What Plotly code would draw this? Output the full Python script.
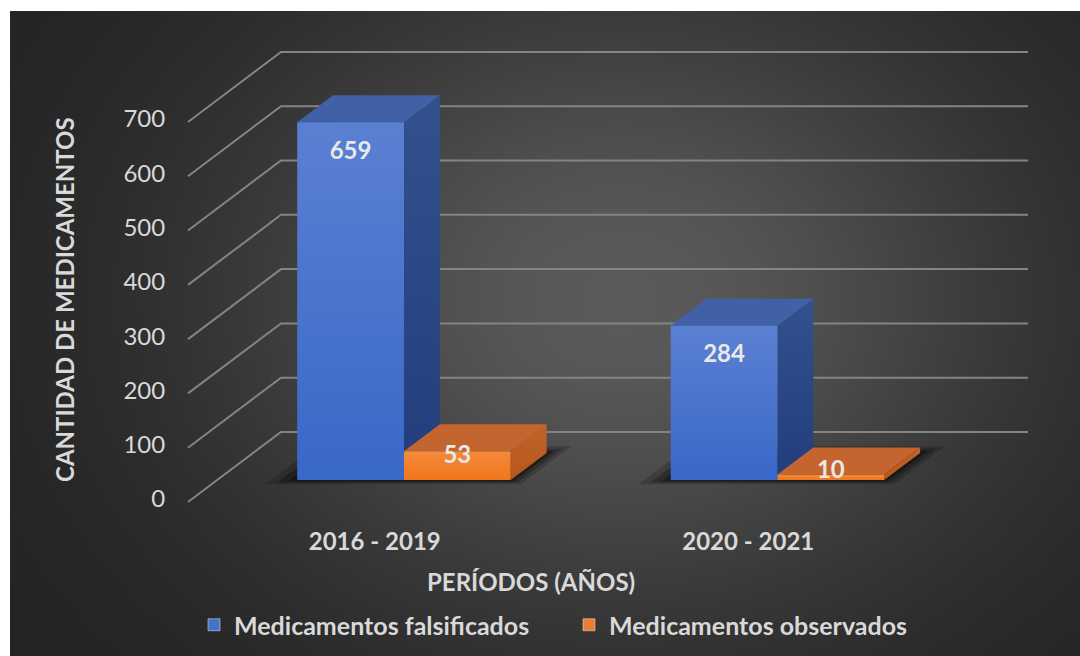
import numpy as np
import plotly.graph_objects as go

# ---------------- data ----------------
categories = ["2016 - 2019", "2020 - 2021"]
falsificados = [659, 284]
observados = [53, 10]
series_names = ["Medicamentos falsificados", "Medicamentos observados"]
y_ticks = [0, 100, 200, 300, 400, 500, 600, 700]

# ---------------- geometry / style ----------------
W, H = 1080, 656
PX0, PY0 = 10, 11                    # dark panel left / top (px)
AL, AR, AT, AB = 178, 1040, 42, 512  # plot area (px)
FRONT_LEFT_PX, ZERO_PX = 188, 502
PX_PER_X, PX_PER_Y = 373.5, 0.5429
DX, DY = 0.249, 129.0                # oblique depth offset (data units)
F0, FD = 0.314, 0.386                # bar front depth, bar depth (fractions)
F1 = F0 + FD
BW = 0.2858                          # bar width (x units)

x_lo = -0.5 - (FRONT_LEFT_PX - AL) / PX_PER_X
x_hi = x_lo + (AR - AL) / PX_PER_X
y_lo = 0 - (AB - ZERO_PX) / PX_PER_Y
y_hi = y_lo + (AB - AT) / PX_PER_Y

panel_w, panel_h = W - PX0, H - PY0
def fx(px):
    return (px - PX0) / panel_w
def fy(py):
    return (H - py) / panel_h

FONT = "Lato"
TXT = "#d9d9d9"

def proj(x, v, d):
    return x + d * DX, v + d * DY

def poly(pts):
    xs, ys = [], []
    for (x, v, d) in pts:
        a, b = proj(x, v, d)
        xs.append(a)
        ys.append(b)
    xs.append(xs[0])
    ys.append(ys[0])
    return xs, ys

fig = go.Figure()

# ---------- background radial gradient (panel) ----------
gx = np.linspace(PX0, W, 60)
gy = np.linspace(PY0, H, 40)
GX, GY = np.meshgrid(gx, gy)
cx, cy, rx, ry = 620, 300, 400, 317
Z = np.exp(-((GX - cx) / rx) ** 2 - ((GY - cy) / ry) ** 2)
fig.add_trace(go.Heatmap(x=gx, y=gy, z=Z, zmin=0, zmax=1, zsmooth="best",
                         colorscale=[[0, "#222222"], [1, "#5a5a5a"]],
                         showscale=False, hoverinfo="skip",
                         xaxis="x", yaxis="y"))

AX2 = dict(xaxis="x2", yaxis="y2")

# ---------- gridlines (left wall diagonal + back wall) ----------
gxs, gys = [], []
for v in y_ticks:
    for (x, d) in [(-0.5, 0), (-0.5, 1), (1.5, 1)]:
        a, b = proj(x, v, d)
        gxs.append(a)
        gys.append(b)
    gxs.append(None)
    gys.append(None)
fig.add_trace(go.Scatter(x=gxs, y=gys, mode="lines",
                         line=dict(color="#848484", width=2),
                         hoverinfo="skip", showlegend=False, **AX2))

# ---------- shadows on the floor ----------
for c in range(len(categories)):
    for (ex, ed, op) in [(0.07, 0.10, 0.18), (0.045, 0.06, 0.25), (0.02, 0.03, 0.35)]:
        xs, ys = poly([(c - BW - ex, 0, F0 - ed * 0.6), (c + BW + ex * 0.6, 0, F0 - ed * 0.6),
                       (c + BW + ex * 0.6, 0, F1 + ed), (c - BW - ex, 0, F1 + ed)])
        fig.add_trace(go.Scatter(x=xs, y=ys, mode="lines", fill="toself",
                                 fillcolor="rgba(0,0,0,%.2f)" % op,
                                 line=dict(width=0), hoverinfo="skip",
                                 showlegend=False, **AX2))

# ---------- 3D bars ----------
styles = [
    dict(front=("#3a68c8", "#5a80d2"), top="#4060a8", side=("#213d7c", "#33508f"), legend="#4472c4"),
    dict(front=("#f0761c", "#f58a3c"), top="#c4652f", side=("#b8561a", "#c0642c"), legend="#ed7d31"),
]
series = [falsificados, observados]
offsets = [(-BW, 0.0), (0.0, BW)]

label_x, label_y, label_t = [], [], []
for c in range(len(categories)):
    for si in range(len(series)):
        h = series[si][c]
        st = styles[si]
        x0, x1 = c + offsets[si][0], c + offsets[si][1]
        # side face
        xs, ys = poly([(x1, 0, F0), (x1, 0, F1), (x1, h, F1), (x1, h, F0)])
        fig.add_trace(go.Scatter(x=xs, y=ys, mode="lines", fill="toself",
                                 fillgradient=dict(type="vertical",
                                                   colorscale=[[0, st["side"][0]], [1, st["side"][1]]]),
                                 line=dict(width=0), hoverinfo="skip", showlegend=False, **AX2))
        # top face
        xs, ys = poly([(x0, h, F0), (x1, h, F0), (x1, h, F1), (x0, h, F1)])
        fig.add_trace(go.Scatter(x=xs, y=ys, mode="lines", fill="toself",
                                 fillcolor=st["top"], line=dict(width=0),
                                 hoverinfo="skip", showlegend=False, **AX2))
        # front face
        xs, ys = poly([(x0, 0, F0), (x1, 0, F0), (x1, h, F0), (x0, h, F0)])
        fig.add_trace(go.Scatter(x=xs, y=ys, mode="lines", fill="toself",
                                 fillgradient=dict(type="vertical",
                                                   colorscale=[[0, st["front"][0]], [1, st["front"][1]]]),
                                 line=dict(width=0), hoverinfo="skip", showlegend=False, **AX2))
        # label position
        lv = (h - 46 if h - 46 > 46 else max(h, 24)) - 10
        a, b = proj((x0 + x1) / 2, lv, F0)
        label_x.append(a)
        label_y.append(b)
        label_t.append("<b>%d</b>" % h)

fig.add_trace(go.Scatter(x=label_x, y=label_y, mode="text", text=label_t,
                         textposition="middle center",
                         textfont=dict(family=FONT, size=24, color="#e8e8e8"),
                         hoverinfo="skip", showlegend=False, **AX2))

# ---------- legend entries ----------
for si in range(len(series)):
    fig.add_trace(go.Bar(x=[None], y=[None], name=series_names[si],
                         marker=dict(color=styles[si]["legend"]), **AX2))

# ---------- layout ----------
fig.update_layout(
    width=W, height=H,
    margin=dict(l=PX0, r=0, t=PY0, b=0, pad=0),
    paper_bgcolor="white",
    plot_bgcolor="rgba(0,0,0,0)",
    showlegend=True,
    legend=dict(orientation="h", x=fx(569), y=fy(625), xanchor="center", yanchor="middle",
                font=dict(family=FONT, size=25, color=TXT, weight="bold"),
                bgcolor="rgba(0,0,0,0)", entrywidth=330, entrywidthmode="pixels"),
    xaxis=dict(domain=[0, 1], range=[PX0, W], visible=False, fixedrange=True),
    yaxis=dict(domain=[0, 1], range=[H, PY0], visible=False, fixedrange=True),
    xaxis2=dict(domain=[fx(AL), fx(AR)], range=[x_lo, x_hi], anchor="y2",
                tickvals=list(range(len(categories))), ticktext=categories,
                tickfont=dict(family=FONT, size=24, color=TXT, weight="bold"),
                ticks="outside", ticklen=8, tickcolor="rgba(0,0,0,0)",
                showgrid=False, zeroline=False, showline=False, fixedrange=True),
    yaxis2=dict(domain=[fy(AB), fy(AT)], range=[y_lo, y_hi], anchor="x2",
                tickvals=y_ticks, ticktext=[str(v) for v in y_ticks],
                tickfont=dict(family=FONT, size=24, color=TXT),
                ticks="outside", ticklen=7, tickcolor="rgba(0,0,0,0)",
                ticklabelshift=-3,
                showgrid=False, zeroline=False, showline=False, fixedrange=True),
    annotations=[
        dict(text="<b>PERÍODOS (AÑOS)</b>", x=fx(531), y=fy(581), xref="paper", yref="paper",
             showarrow=False, xanchor="center", yanchor="middle",
             font=dict(family=FONT, size=24, color=TXT)),
        dict(text="<b>CANTIDAD DE MEDICAMENTOS</b>", x=fx(65), y=fy(300), xref="paper", yref="paper",
             showarrow=False, xanchor="center", yanchor="middle", textangle=-90,
             font=dict(family=FONT, size=24, color=TXT)),
    ],
)

fig.write_html("out.html", config={"displayModeBar": False, "staticPlot": True},
               post_script="document.body.style.margin='0';document.body.style.overflow='hidden';")
